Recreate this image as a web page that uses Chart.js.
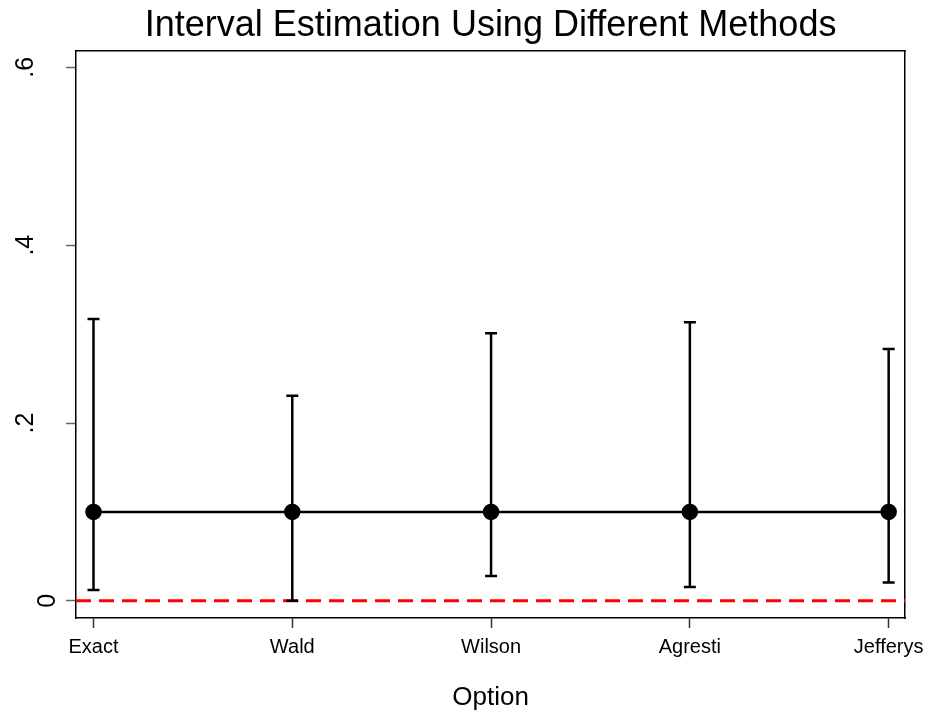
<!DOCTYPE html>
<html>
<head>
<meta charset="utf-8">
<script src="https://cdn.jsdelivr.net/npm/chart.js@4.4.1/dist/chart.umd.min.js"></script>
<style>
  html, body { margin: 0; padding: 0; background: #fff; }
  canvas { display: block; }
</style>
</head>
<body>
<canvas id="ciChart" width="931" height="713"></canvas>
<script>
// data
const categories = ["Exact", "Wald", "Wilson", "Agresti", "Jefferys"];
const estimate = [0.1, 0.1, 0.1, 0.1, 0.1];
const lower = [0.0123, 0, 0.0279, 0.0155, 0.0206];
const upper = [0.317, 0.2307, 0.301, 0.3133, 0.2833];
const yTicks = [0, 0.2, 0.4, 0.6];
const yTickLabels = ["0", ".2", ".4", ".6"];

const xMin = -0.088, xMax = 4.083;
const yMin = -0.0193, yMax = 0.6184;

Chart.defaults.font.family = "'Liberation Sans', Arial, sans-serif";
Chart.defaults.color = "#000";

// whiskers: one segment per category, split by null points
const ciPoints = [];
categories.forEach((c, i) => {
  ciPoints.push({ x: i, y: lower[i] }, { x: i, y: upper[i] }, { x: i, y: null });
});

// stata-like vertical y labels (the "0" sits closer to the axis)
const yLabels = {
  id: "yLabels",
  afterDraw(chart) {
    const s = chart.scales.y;
    const ctx = chart.ctx;
    ctx.save();
    ctx.font = "25px 'Liberation Sans', Arial, sans-serif";
    ctx.fillStyle = "#000";
    ctx.textAlign = "center";
    ctx.textBaseline = "alphabetic";
    yTicks.forEach((v, i) => {
      const py = s.getPixelForValue(v);
      const bx = s.right - (v === 0 ? 21.5 : 43.5);
      ctx.save();
      ctx.translate(bx, py);
      ctx.rotate(-Math.PI / 2);
      ctx.fillText(yTickLabels[i], 0, 0);
      ctx.restore();
    });
    ctx.restore();
  }
};

const frame = { display: true, color: "#000", width: 1.5 };

new Chart(document.getElementById("ciChart"), {
  type: "line",
  data: {
    datasets: [
      {
        data: categories.map((c, i) => ({ x: i, y: estimate[i] })),
        borderColor: "#000",
        borderWidth: 2.5,
        pointRadius: 7,
        pointBackgroundColor: "#000",
        pointBorderColor: "#000",
        tension: 0,
        order: 0
      },
      {
        data: ciPoints,
        borderColor: "#000",
        borderWidth: 2.5,
        pointStyle: "line",
        pointRadius: 6,
        pointBorderWidth: 2.5,
        pointBorderColor: "#000",
        spanGaps: false,
        order: 1
      },
      {
        data: [{ x: xMin, y: 0 }, { x: xMax, y: 0 }],
        borderColor: "#ff0000",
        borderWidth: 3,
        borderDash: [15, 8],
        pointRadius: 0,
        order: 2
      }
    ]
  },
  options: {
    responsive: false,
    animation: false,
    layout: { padding: { left: 0, right: 23, top: 0, bottom: 0 } },
    plugins: {
      legend: { display: false },
      tooltip: { enabled: false },
      title: {
        display: true,
        fullSize: false,
        text: "Interval Estimation Using Different Methods",
        color: "#000",
        font: { size: 36, weight: "normal" },
        padding: { top: 4, bottom: 3.8 }
      }
    },
    scales: {
      x: {
        type: "linear",
        position: "bottom",
        min: xMin,
        max: xMax,
        afterBuildTicks: s => { s.ticks = categories.map((c, i) => ({ value: i })); },
        afterFit: s => { s.height = 95; },
        ticks: {
          callback: v => categories[v],
          font: { size: 20 },
          color: "#000",
          padding: 7,
          maxRotation: 0,
          autoSkip: false
        },
        grid: { drawOnChartArea: false, tickLength: 10, color: "#333", tickWidth: 1.5 },
        border: frame,
        title: { display: true, text: "Option", font: { size: 26 }, color: "#000", padding: { top: 0, bottom: 0 } }
      },
      y: {
        type: "linear",
        position: "left",
        min: yMin,
        max: yMax,
        afterBuildTicks: s => { s.ticks = yTicks.map(v => ({ value: v })); },
        afterFit: s => { s.width = 76; },
        ticks: { display: false },
        grid: { drawOnChartArea: false, tickLength: 10, color: "#666", tickWidth: 1.5 },
        border: frame
      },
      x2: {
        type: "linear",
        position: "top",
        ticks: { display: false },
        grid: { display: false },
        border: frame,
        afterFit: s => { s.height = 0; }
      },
      y2: {
        type: "linear",
        position: "right",
        ticks: { display: false },
        grid: { display: false },
        border: frame,
        afterFit: s => { s.width = 0; }
      }
    }
  },
  plugins: [yLabels]
});
</script>
</body>
</html>
